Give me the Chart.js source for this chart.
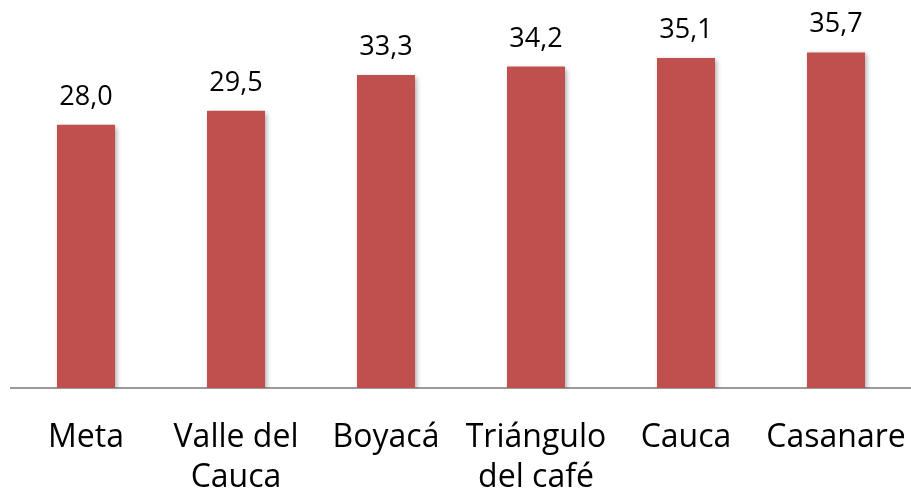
<!DOCTYPE html>
<html>
<head>
<meta charset="utf-8">
<script src="https://cdn.jsdelivr.net/npm/chart.js@4"></script>
<style>
  html, body { margin: 0; padding: 0; background: #fff; }
  #wrap { width: 911px; height: 496px; position: relative; }
</style>
</head>
<body>
<div id="wrap"><canvas id="chart"></canvas></div>
<script>
// Data
const regions = [['Meta'], ['Valle del', 'Cauca'], ['Boyacá'], ['Triángulo', 'del café'], ['Cauca'], ['Casanare']];
const values = [28.0, 29.5, 33.3, 34.2, 35.1, 35.7];

// Soft shadow behind the bars
const barShadow = {
    id: 'barShadow',
    beforeDatasetsDraw(chart) {
        const ctx = chart.ctx;
        ctx.save();
        ctx.shadowColor = 'rgba(0,0,0,0.35)';
        ctx.shadowBlur = 5;
        ctx.shadowOffsetX = 2;
        ctx.shadowOffsetY = 2;
    },
    afterDatasetsDraw(chart) {
        chart.ctx.restore();
    }
};

// Value labels above each bar, with a comma as decimal mark
const valueLabels = {
    id: 'valueLabels',
    afterDatasetsDraw(chart) {
        const ctx = chart.ctx;
        const meta = chart.getDatasetMeta(0);
        ctx.save();
        ctx.fillStyle = '#000';
        ctx.font = '27px "Open Sans"';
        ctx.textAlign = 'center';
        ctx.textBaseline = 'alphabetic';
        meta.data.forEach((bar, i) => {
            const txt = values[i].toFixed(1).replace('.', ',');
            ctx.fillText(txt, bar.x, bar.y - 20);
        });
        ctx.restore();
    }
};

new Chart(document.getElementById('chart'), {
    type: 'bar',
    data: {
        labels: regions,
        datasets: [{
            data: values,
            backgroundColor: '#C0504D',
            borderWidth: 0,
            barPercentage: 0.387,
            categoryPercentage: 1
        }]
    },
    options: {
        responsive: true,
        maintainAspectRatio: false,
        animation: false,
        layout: {
            padding: { left: 11, right: 0, top: 12, bottom: 0 }
        },
        scales: {
            y: {
                display: false,
                min: 0,
                max: 40
            },
            x: {
                grid: { display: false, drawTicks: false },
                border: { display: true, color: '#9a9a9a', width: 2 },
                ticks: {
                    color: '#000',
                    font: { family: '"Open Sans"', size: 32, lineHeight: 1.25 },
                    padding: 30,
                    maxRotation: 0,
                    minRotation: 0,
                    autoSkip: false
                },
                afterFit: function(scale) {
                    // labels may run to the edges, as in the original
                    scale.paddingLeft = 0;
                    scale.paddingRight = 0;
                    scale.paddingTop = 0;
                    scale.paddingBottom = 0;
                    scale.height = 108;
                }
            }
        },
        plugins: {
            legend: { display: false },
            tooltip: { enabled: false }
        }
    },
    plugins: [barShadow, valueLabels]
});
</script>
</body>
</html>
